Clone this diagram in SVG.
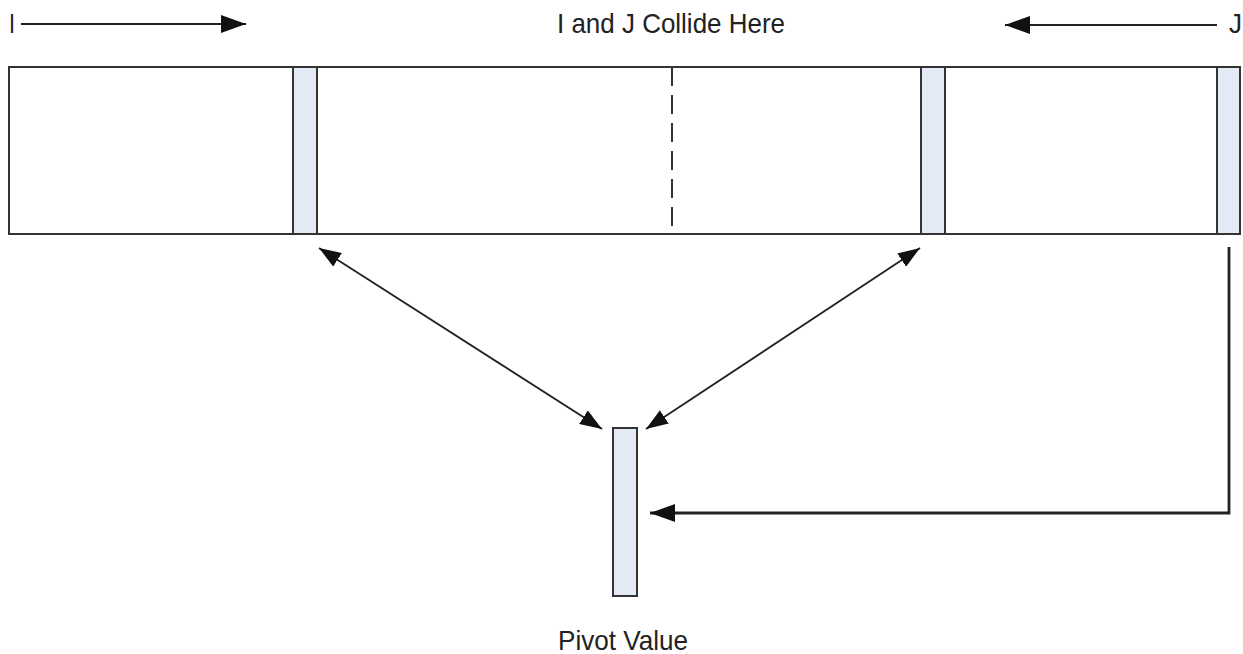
<svg xmlns="http://www.w3.org/2000/svg" width="1243" height="654" viewBox="0 0 1243 654">
<defs>
<style>
.txt{font-family:"Liberation Sans",Arial,sans-serif;font-size:28px;fill:#222}
.box{fill:#fff;stroke:#333;stroke-width:2}
.cell{fill:#e3eaf6;stroke:#333;stroke-width:2}
.ln{fill:none;stroke:#222;stroke-width:1.8}
.thick{fill:none;stroke:#222;stroke-width:2.8}
</style>
<marker id="ah" viewBox="0 0 10 10" refX="10" refY="5" markerWidth="25" markerHeight="18" markerUnits="userSpaceOnUse" preserveAspectRatio="none" orient="auto-start-reverse">
<path d="M0,0 L10,5 L0,10 Z" fill="#111"/>
</marker>
<marker id="ahs" viewBox="0 0 10 10" refX="10" refY="5" markerWidth="22" markerHeight="16" markerUnits="userSpaceOnUse" preserveAspectRatio="none" orient="auto-start-reverse">
<path d="M0,0 L10,5 L0,10 Z" fill="#111"/>
</marker>
</defs>
<rect width="1243" height="654" fill="#fff"/>
<g id="labels">
<text class="txt" x="9" y="33" textLength="6" lengthAdjust="spacingAndGlyphs">I</text>
<text class="txt" x="671" y="33" text-anchor="middle" textLength="228" lengthAdjust="spacingAndGlyphs">I and J Collide Here</text>
<text class="txt" x="1229" y="33" textLength="13" lengthAdjust="spacingAndGlyphs">J</text>
</g>
<g id="array">
<rect class="box" x="9" y="67" width="1231" height="167"/>
<line x1="672" y1="67" x2="672" y2="234" stroke="#333" stroke-width="2" stroke-dasharray="19,9"/>
</g>
<g id="cell-i"><rect class="cell" x="293" y="67" width="24" height="167"/></g>
<g id="cell-j"><rect class="cell" x="921" y="67" width="24" height="167"/></g>
<g id="cell-last"><rect class="cell" x="1217" y="67" width="23" height="167"/></g>
<g id="pivot">
<rect class="cell" x="613" y="428" width="24" height="168"/>
<text class="txt" x="623" y="650" text-anchor="middle" textLength="130" lengthAdjust="spacingAndGlyphs">Pivot Value</text>
</g>
<g id="connectors">
<line class="ln" x1="21" y1="24" x2="246" y2="24" marker-end="url(#ah)"/>
<line class="ln" x1="1217" y1="25" x2="1005" y2="25" marker-end="url(#ah)"/>
<line class="ln" x1="319" y1="248" x2="602" y2="429" marker-start="url(#ahs)" marker-end="url(#ahs)"/>
<line class="ln" x1="920" y1="248" x2="646" y2="429" marker-start="url(#ahs)" marker-end="url(#ahs)"/>
<polyline class="thick" points="1229,247 1229,513 650,513" marker-end="url(#ah)"/>
</g>
</svg>
